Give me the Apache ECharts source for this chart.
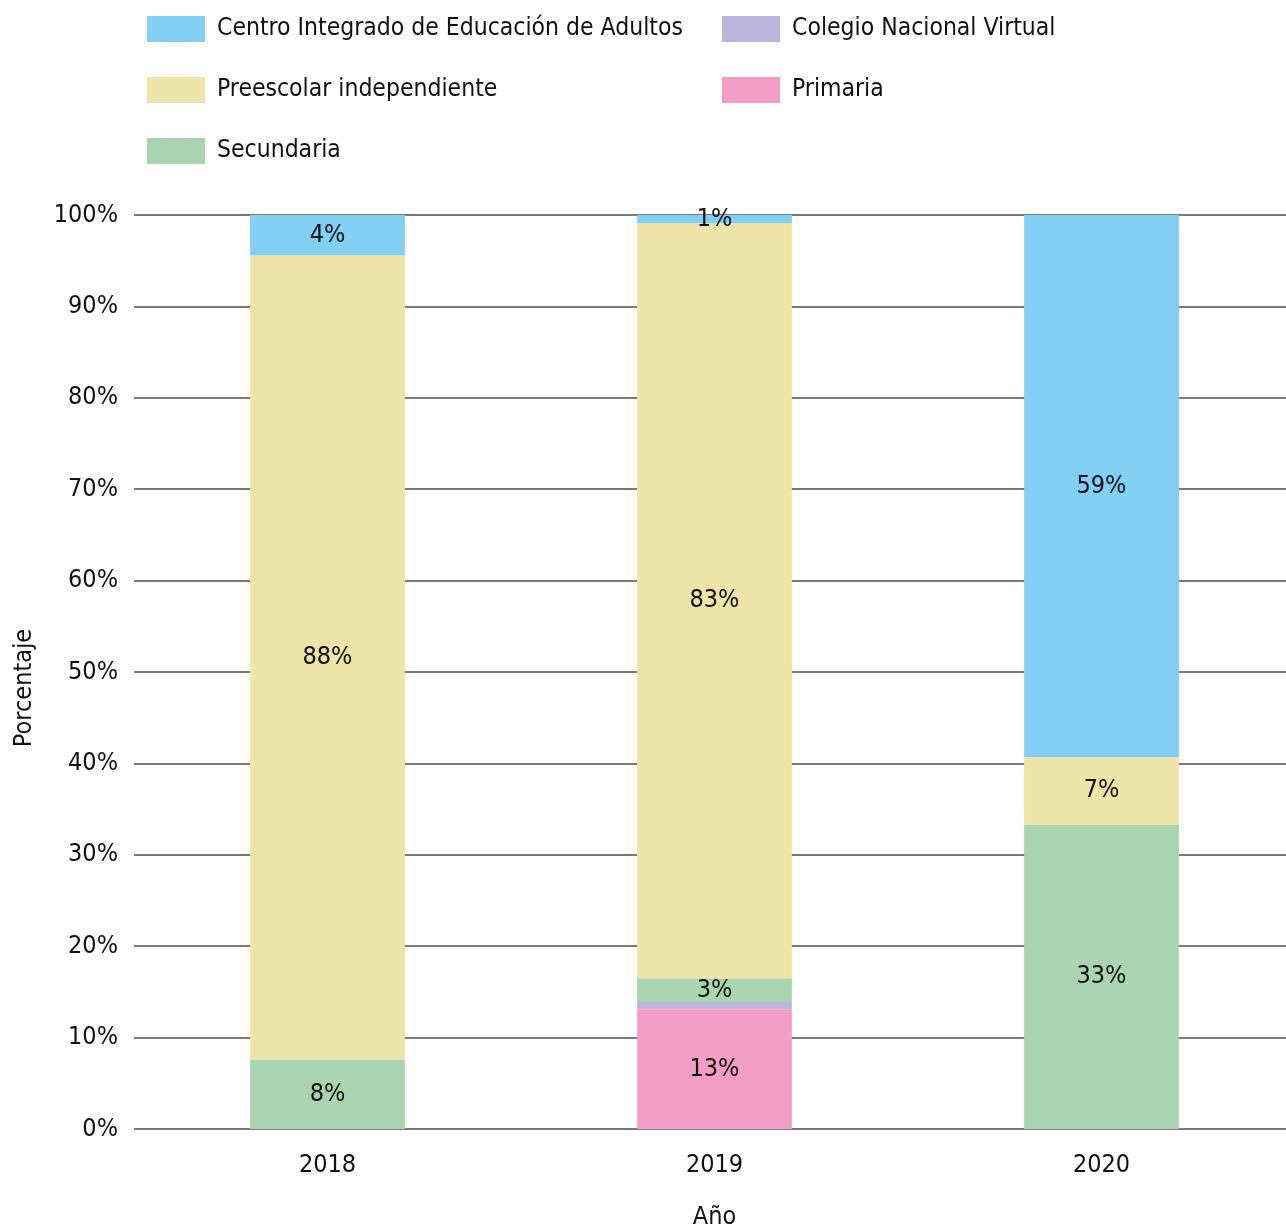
<!DOCTYPE html>
<html><head><meta charset="utf-8">
<script src="https://cdn.jsdelivr.net/npm/echarts@6/dist/echarts.min.js"></script>
<style>html,body{margin:0;padding:0;background:#fff}#c{width:1286px;height:1230px}</style>
</head><body><div id="c"></div>
<script>
const years = ['2018', '2019', '2020'];
const primaria = [0, 13.1, 0];
const colegioVirtual = [0, 0.8, 0];
const secundaria = [7.6, 2.6, 33.3];
const preescolar = [88.0, 82.6, 7.4];
const centroAdultos = [4.4, 0.9, 59.3];
const yTicks = [0, 10, 20, 30, 40, 50, 60, 70, 80, 90, 100];

const FONT = '"DejaVu Sans Condensed","DejaVu Sans",sans-serif';
const colors = {
  'Centro Integrado de Educación de Adultos': '#82cff4',
  'Colegio Nacional Virtual': '#bcb5db',
  'Preescolar independiente': '#eee4a7',
  'Primaria': '#f29ec4',
  'Secundaria': '#a8d4af'
};
function mk(name, data) {
  return {
    name, type: 'bar', stack: 'total', data, barWidth: '40%',
    itemStyle: { color: colors[name] },
    label: {
      show: true, position: 'inside', color: '#111', fontFamily: FONT, fontSize: 25,
      formatter: p => p.value >= 0.85 ? Math.round(p.value) + '%' : ''
    }
  };
}
const legendText = { fontSize: 24.5, lineHeight: 26, color: '#111', fontFamily: FONT, padding: [0, 0, 0, 7] };
const chart = echarts.init(document.getElementById('c'));
chart.setOption({
  animation: false,
  textStyle: { fontFamily: FONT },
  legend: [
    { data: ['Centro Integrado de Educación de Adultos', 'Preescolar independiente', 'Secundaria'],
      orient: 'vertical', left: 147, top: 16, padding: 0, itemWidth: 58, itemHeight: 26, itemGap: 35,
      icon: 'rect', textStyle: legendText },
    { data: ['Colegio Nacional Virtual', 'Primaria'],
      orient: 'vertical', left: 722, top: 16, padding: 0, itemWidth: 58, itemHeight: 26, itemGap: 35,
      icon: 'rect', textStyle: legendText }
  ],
  grid: { left: 134, width: 1161, top: 215, bottom: 101, containLabel: false, outerBoundsMode: 'none' },
  xAxis: {
    type: 'category', data: years,
    name: 'Año', nameLocation: 'middle', nameGap: 76,
    nameTextStyle: { fontSize: 25, color: '#111', fontFamily: FONT },
    axisLine: { show: false }, axisTick: { show: false },
    axisLabel: { fontSize: 25, color: '#111', fontFamily: FONT, margin: 24 }
  },
  yAxis: {
    type: 'value', min: 0, max: 100, interval: 10,
    name: 'Porcentaje', nameLocation: 'middle', nameGap: 97, nameRotate: 90,
    nameTextStyle: { fontSize: 25, color: '#111', fontFamily: FONT, padding: [0, 32, 0, 0] },
    axisLine: { show: false }, axisTick: { show: false },
    axisLabel: { fontSize: 25, color: '#111', fontFamily: FONT, margin: 16, padding: [6, 0, 0, 0],
      formatter: v => yTicks.includes(v) ? v + '%' : '' },
    splitLine: { lineStyle: { color: '#7a7a7a', width: 2 } }
  },
  series: [
    mk('Primaria', primaria),
    mk('Colegio Nacional Virtual', colegioVirtual),
    mk('Secundaria', secundaria),
    mk('Preescolar independiente', preescolar),
    mk('Centro Integrado de Educación de Adultos', centroAdultos)
  ]
});
</script></body></html>
